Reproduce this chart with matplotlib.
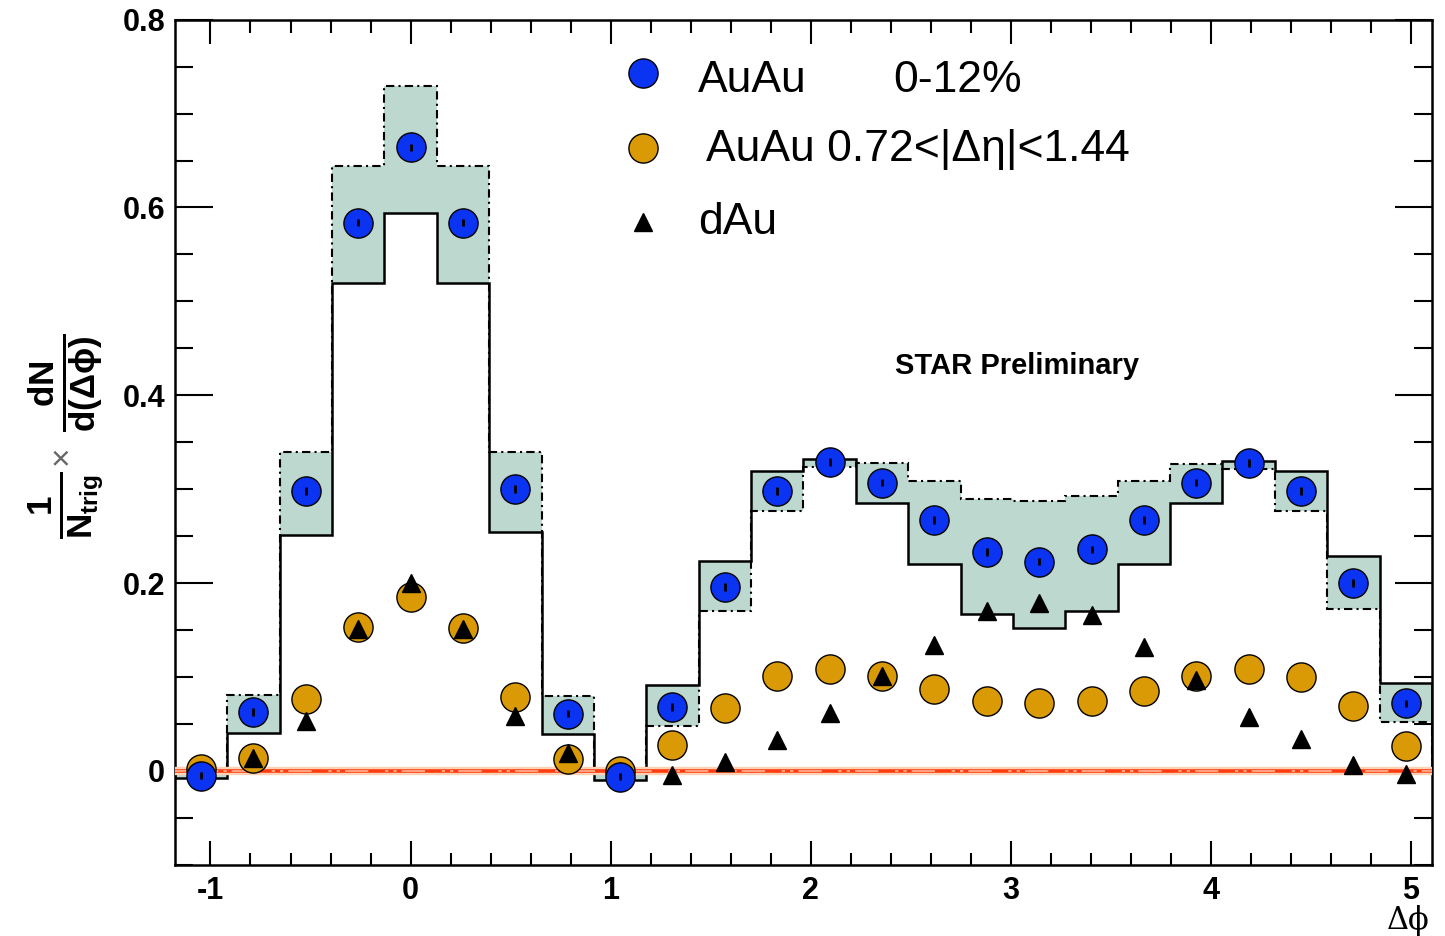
import numpy as np
import matplotlib
matplotlib.use('Agg')
import matplotlib.pyplot as plt
from matplotlib.ticker import MultipleLocator

plt.rcParams['font.family'] = 'Liberation Sans'
plt.rcParams['mathtext.fontset'] = 'custom'
plt.rcParams['mathtext.rm'] = 'Liberation Sans:bold'
plt.rcParams['mathtext.it'] = 'Liberation Sans:bold'
plt.rcParams['mathtext.bf'] = 'Liberation Sans:bold'

# 24 bins of width pi/12, centred on k*pi/12 for k = -4..19
bin_index = np.arange(-4, 20)

auau_central = [-0.005, 0.063, 0.298, 0.584, 0.664, 0.584, 0.300, 0.061,
                -0.006, 0.068, 0.196, 0.298, 0.329, 0.307, 0.267, 0.233,
                0.223, 0.236, 0.267, 0.307, 0.328, 0.298, 0.200, 0.072]
auau_central_err = [0.004] * 24

auau_deta = [0.002, 0.014, 0.077, 0.153, 0.185, 0.152, 0.079, 0.013,
             0.000, 0.028, 0.067, 0.101, 0.109, 0.101, 0.087, 0.075,
             0.072, 0.075, 0.085, 0.101, 0.109, 0.100, 0.069, 0.027]

dau = [0.000, 0.014, 0.053, 0.151, 0.200, 0.151, 0.058, 0.019,
       0.000, -0.004, 0.009, 0.033, 0.062, 0.101, 0.134, 0.170,
       0.179, 0.166, 0.132, 0.097, 0.057, 0.034, 0.006, -0.003]

# flow-subtraction systematics: two background variants per bin
syst_solid = [-0.008, 0.040, 0.251, 0.520, 0.594, 0.520, 0.254, 0.039,
              -0.010, 0.092, 0.224, 0.319, 0.332, 0.285, 0.220, 0.167,
              0.152, 0.170, 0.220, 0.285, 0.330, 0.319, 0.229, 0.094]
syst_dash = [-0.002, 0.081, 0.340, 0.644, 0.729, 0.644, 0.340, 0.080,
             -0.002, 0.048, 0.170, 0.277, 0.324, 0.328, 0.309, 0.290,
             0.287, 0.293, 0.309, 0.327, 0.321, 0.277, 0.172, 0.052]

BLUE = '#0a34f2'
GOLD = '#d99a06'

width = np.pi / 12
centers = bin_index * width
edges = np.append(centers - width / 2, centers[-1] + width / 2)

lo = np.minimum(syst_solid, syst_dash)
hi = np.maximum(syst_solid, syst_dash)

fig = plt.figure(figsize=(14.45, 9.36), dpi=100)
ax = fig.add_axes([0.121, 0.076, 0.870, 0.903])

ax.stairs(hi, edges, baseline=lo, fill=True, color='#bdd8cf', zorder=1)
ax.stairs(syst_solid, edges, color='black', lw=1.8, zorder=2)
ax.stairs(syst_dash, edges, color='black', lw=1.5, ls=(0, (4, 2, 1, 2)), zorder=2)

# zero line
ax.axhline(0, color='#ffd2b5', lw=6, zorder=3)
ax.axhline(0, color='#ff3c10', lw=2.6, zorder=3)
ax.axhline(0, color='#ffb595', lw=1.2, ls=(0, (14, 10, 2, 3, 2, 3)), zorder=3)

ax.plot(centers, auau_deta, 'o', ms=21, mfc=GOLD, mec='black', mew=1.0, zorder=4)
ax.plot(centers, dau, '^', ms=13, mfc='black', mec='black', zorder=5)
ax.plot(centers, auau_central, 'o', ms=21, mfc=BLUE, mec='black', mew=1.0, zorder=6)
ax.errorbar(centers, auau_central, yerr=auau_central_err, fmt='none',
            ecolor='black', elinewidth=2, zorder=7)

ax.set_xlim(edges[0], edges[-1])
ax.set_ylim(-0.1, 0.8)

ax.xaxis.set_major_locator(MultipleLocator(1))
ax.xaxis.set_minor_locator(MultipleLocator(0.2))
ax.yaxis.set_major_locator(MultipleLocator(0.2))
ax.yaxis.set_minor_locator(MultipleLocator(0.05))
ax.xaxis.set_major_formatter(plt.FuncFormatter(lambda v, p: '%d' % round(v)))
ax.yaxis.set_major_formatter(plt.FuncFormatter(lambda v, p: '0' if abs(v) < 1e-9 else '%.1f' % v))

ax.tick_params(axis='x', which='major', direction='in', top=True, length=17, width=1.5, pad=8)
ax.tick_params(axis='x', which='minor', direction='in', top=True, length=9, width=1.5)
ax.tick_params(axis='y', which='major', direction='in', right=True, length=27, width=1.5, pad=7)
ax.tick_params(axis='y', which='minor', direction='in', right=True, length=13, width=1.5)
for lab in ax.get_xticklabels() + ax.get_yticklabels():
    lab.set_fontsize(22)
    lab.set_fontweight('bold')
for s in ax.spines.values():
    s.set_linewidth(1.8)

# y axis title built from three pieces
fig.text(0.046, 1 - 505 / 936, r'$\frac{1}{N_{trig}}$', rotation=90,
         ha='center', va='center', fontsize=36)
fig.text(0.043, 1 - 455 / 936, '\u00d7', rotation=90, ha='center', va='center',
         fontsize=24, color='#666666')
fig.text(0.046, 1 - 383 / 936, r'$\frac{dN}{d(\Delta\phi)}$', rotation=90,
         ha='center', va='center', fontsize=36)

fig.text(1408 / 1445, 1 - 920 / 936, '\u0394\u03d5', fontsize=22, ha='center',
         va='center', family='DejaVu Serif')

# legend
ax.plot(0.3723, 0.937, 'o', ms=21, mfc=BLUE, mec='black', mew=1.0, transform=ax.transAxes)
ax.plot(0.3723, 0.8485, 'o', ms=21, mfc=GOLD, mec='black', mew=1.0, transform=ax.transAxes)
ax.plot(0.3723, 0.761, '^', ms=13, mfc='black', mec='black', transform=ax.transAxes)
fig.text(698 / 1445, 1 - 80 / 936, 'AuAu', fontsize=32, va='center')
fig.text(893 / 1445, 1 - 80 / 936, '0-12%', fontsize=32, va='center')
fig.text(706 / 1445, 1 - 150 / 936, 'AuAu 0.72<|\u0394\u03b7|<1.44', fontsize=32, va='center')
fig.text(698 / 1445, 1 - 222 / 936, 'dAu', fontsize=32, va='center')

fig.text(1017 / 1445, 1 - 366 / 936, 'STAR Preliminary', fontsize=21,
         fontweight='bold', ha='center', va='center')

fig.savefig('out.png', dpi=100)
